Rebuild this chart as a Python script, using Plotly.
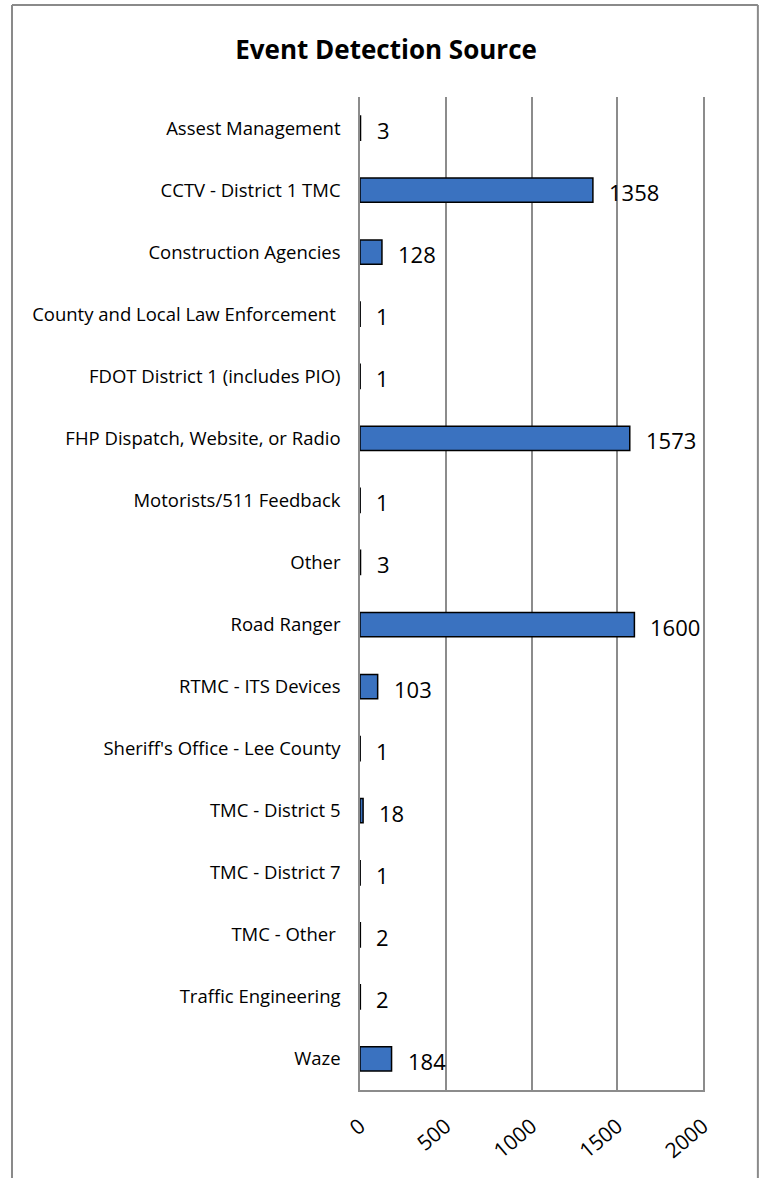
import plotly.graph_objects as go

sources = [
    "Assest Management",
    "CCTV - District 1 TMC",
    "Construction Agencies",
    "County and Local Law Enforcement ",
    "FDOT District 1 (includes PIO)",
    "FHP Dispatch, Website, or Radio",
    "Motorists/511 Feedback",
    "Other",
    "Road Ranger",
    "RTMC - ITS Devices",
    "Sheriff's Office - Lee County",
    "TMC - District 5",
    "TMC - District 7",
    "TMC - Other ",
    "Traffic Engineering",
    "Waze",
]
counts = [3, 1358, 128, 1, 1, 1573, 1, 3, 1600, 103, 1, 18, 1, 2, 2, 184]
x_ticks = [0, 500, 1000, 1500, 2000]

FONT = "Open Sans, Liberation Sans, sans-serif"
GRID = "#8c8c8c"

fig = go.Figure(go.Bar(
    x=counts, y=sources,
    orientation="h",
    width=0.39,
    marker=dict(color="#3a72c0", line=dict(color="black", width=1.5)),
    hoverinfo="x+y",
))

# value labels to the right of each bar
for s, c in zip(sources, counts):
    fig.add_annotation(
        x=c, y=s, text=str(c), showarrow=False,
        xanchor="left", xshift=14, yshift=-2,
        font=dict(family=FONT, size=22, color="black"),
    )

# chart frame (left, top, right edges; bottom is cropped)
L, T, R = -1.0146, 1.0927, 1.160
for x0, y0, x1, y1 in [(L, -0.3, L, T), (L, T, R, T), (R, T, R, -0.3)]:
    fig.add_shape(type="line", xref="paper", yref="paper",
                  x0=x0, y0=y0, x1=x1, y1=y1,
                  line=dict(color="#8a8a8a", width=2))

fig.update_layout(
    title=dict(text="<b>Event Detection Source</b>", x=0.076, xref="paper",
               xanchor="center", y=0.9576, yanchor="middle",
               font=dict(family=FONT, size=26, color="black")),
    width=760, height=1178,
    margin=dict(l=360, r=57, t=97, b=88),
    paper_bgcolor="white", plot_bgcolor="white",
    showlegend=False,
    xaxis=dict(
        range=[0, 2000], tickvals=x_ticks, ticktext=[str(v) for v in x_ticks],
        tickangle=-40, showgrid=True, gridcolor=GRID, gridwidth=1.5,
        zeroline=False, showline=True, linecolor=GRID, linewidth=1.5,
        ticks="", ticklabelstandoff=14,
        tickfont=dict(family=FONT, size=21, color="black"),
    ),
    yaxis=dict(
        autorange="reversed", showgrid=False, zeroline=False,
        showline=True, mirror=True, linecolor=GRID, linewidth=1.5,
        ticks="", ticklabelstandoff=14,
        tickfont=dict(family=FONT, size=18.5, color="black"),
    ),
)

fig.write_html("out.html", config={"displayModeBar": False},
               post_script="document.body.style.margin='0';")
